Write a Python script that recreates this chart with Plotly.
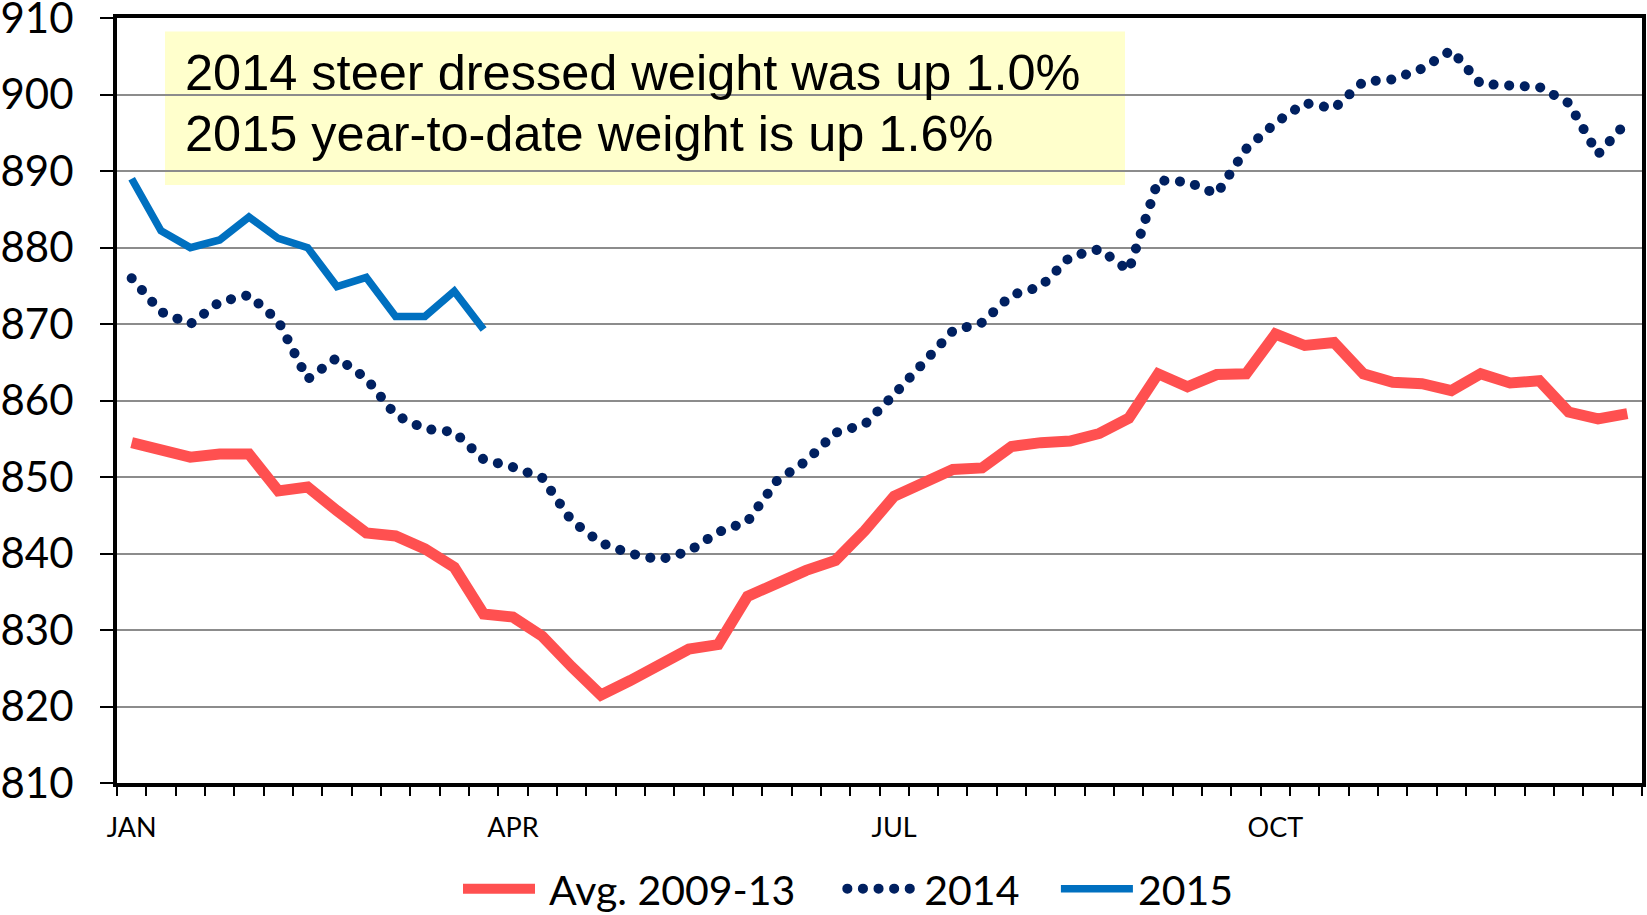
import plotly.graph_objects as go

weeks = list(range(52))

avg_2009_13 = [854.5, 853.5, 852.6, 853.0, 853.0, 848.2, 848.7, 845.6, 842.7, 842.3,
               840.6, 838.2, 832.1, 831.7, 829.2, 825.2, 821.5, 823.4, 825.5, 827.5,
               828.1, 834.4, 836.1, 837.8, 839.1, 843.0, 847.5, 849.1, 851.0, 851.2,
               854.0, 854.5, 854.7, 855.7, 857.7, 863.5, 861.8, 863.4, 863.5, 868.7,
               867.2, 867.6, 863.5, 862.4, 862.2, 861.3, 863.5, 862.3, 862.6, 858.5,
               857.6, 858.3]

y2014 = [876.0, 871.6, 870.0, 872.9, 873.8, 870.4, 862.8, 865.6, 862.9, 858.1,
         856.3, 855.9, 852.3, 851.3, 849.9, 844.3, 841.4, 840.0, 839.2, 840.3,
         842.8, 844.2, 849.5, 852.1, 855.8, 856.9, 860.8, 864.9, 869.1, 870.2,
         873.8, 874.9, 878.8, 879.8, 877.0, 888.8, 888.6, 887.0, 892.9, 896.3,
         898.9, 898.2, 901.7, 902.0, 903.4, 905.8, 901.4, 901.2, 901.0, 898.9,
         892.2, 896.5]

y2015 = [889.0, 882.2, 880.0, 881.0, 884.0, 881.2, 880.0, 874.9, 876.1, 871.0,
         871.0, 874.3, 869.3]

month_pos = [0, 13, 26, 39]
month_labels = ["JAN", "APR", "JUL", "OCT"]
y_ticks = list(range(810, 911, 10))

series_names = ["Avg. 2009-13", "2014", "2015"]

note_lines = ["2014 steer dressed weight was up 1.0%",
              "2015 year-to-date weight is up 1.6%"]

NB = "\u00a0"
fig = go.Figure()
fig.add_trace(go.Scatter(x=weeks, y=avg_2009_13, mode="lines",
                         name=NB + series_names[0] + NB * 4,
                         line=dict(color="#FF5050", width=11)))
fig.add_trace(go.Scatter(x=weeks, y=y2014, mode="lines",
                         name=series_names[1] + NB * 3,
                         line=dict(color="#002060", width=10, dash="0.1px,15.5px")))
fig.add_trace(go.Scatter(x=weeks[:len(y2015)], y=y2015, mode="lines",
                         name=series_names[2],
                         line=dict(color="#0070C0", width=7.5)))

W, H = 1647, 915
L, R, T, B = 117, 5, 18, 132
pw, ph = W - L - R, H - T - B


def px(xp):
    return (xp - L) / pw


def py(yp):
    return (H - B - yp) / ph


fig.add_shape(type="rect", xref="paper", yref="paper",
              x0=px(165), x1=px(1125), y0=py(185), y1=py(31.5),
              fillcolor="#FFFFCC", line=dict(width=0), layer="below")

for txt, yc in zip(note_lines, [72.5, 133.7]):
    fig.add_annotation(xref="paper", yref="paper", x=px(183), y=py(yc),
                       xanchor="left", yanchor="middle", showarrow=False,
                       text=txt, font=dict(family="Liberation Sans, Arial", size=50.5, color="black"))

fig.update_layout(
    width=W, height=H,
    margin=dict(l=L, r=R, t=T, b=B, autoexpand=False),
    paper_bgcolor="white", plot_bgcolor="white",
    showlegend=True,
    legend=dict(orientation="h", x=px(458), xanchor="left", y=py(889), yanchor="middle",
                font=dict(family="Lato", size=41, color="black"),
                itemwidth=72, tracegroupgap=0),
    font=dict(family="Lato", color="black"),
)

fig.update_xaxes(
    range=[-0.5, 51.5], tickmode="array", tickvals=month_pos, ticktext=month_labels,
    ticks="outside", ticklen=18, tickcolor="rgba(0,0,0,0)",
    tickfont=dict(family="Lato", size=27, color="black"),
    showgrid=False, zeroline=False, automargin=False,
    showline=True, linecolor="black", linewidth=4, mirror=True,
    minor=dict(ticks="outside", tickmode="linear", tick0=-0.5, dtick=1,
               ticklen=9, tickwidth=2, tickcolor="black", showgrid=False),
)

fig.update_yaxes(
    range=[810, 910.02], tickmode="array", tickvals=y_ticks,
    ticks="outside", ticklen=13, tickwidth=2, tickcolor="black",
    ticklabelstandoff=18, automargin=False, ticklabeloverflow="allow",
    tickfont=dict(family="Lato", size=42, color="black"),
    showgrid=True, gridcolor="#8C8C8C", gridwidth=2, zeroline=False,
    showline=True, linecolor="black", linewidth=4, mirror=True,
)

post = """
document.body.style.margin = '0';
document.body.style.padding = '0';
document.documentElement.style.overflow = 'hidden';
var gd = document.getElementById('{plot_id}');
function roundDots() {
  gd.querySelectorAll('path').forEach(function (p) {
    if (p.style.stroke === 'rgb(0, 32, 96)') { p.style.strokeLinecap = 'round'; }
  });
}
roundDots();
if (gd.on) { gd.on('plotly_afterplot', roundDots); }
"""

fig.write_html("out.html", post_script=post, config={"displayModeBar": False})
